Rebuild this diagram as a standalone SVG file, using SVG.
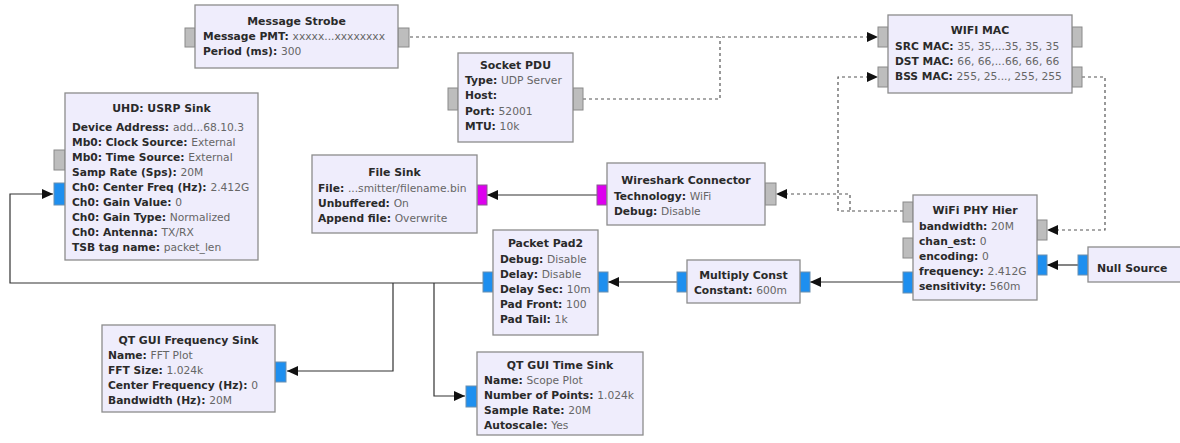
<svg xmlns="http://www.w3.org/2000/svg" width="1180" height="443" viewBox="0 0 1180 443">
<style>
.box{fill:#efedfc;stroke:#8c8c8c;stroke-width:1.3}
.pg{fill:#bdbdbd;stroke:#8a8a8a;stroke-width:1}
.pb{fill:#1e8fef;stroke:#6a8fb0;stroke-width:1}
.pm{fill:#dd00ee;stroke:#8a5a90;stroke-width:1}
text{font-family:"DejaVu Sans","Liberation Sans",sans-serif;font-size:10.7px;fill:#2a2a2a}
.t{font-weight:bold;font-size:10.9px;text-anchor:middle}
.k{font-weight:bold}
.v{font-weight:normal;fill:#666}
.s{fill:none;stroke:#333;stroke-width:1.2}
.d{fill:none;stroke:#555;stroke-width:1.2;stroke-dasharray:3 3}
</style>
<defs>
<marker id="ah" markerUnits="userSpaceOnUse" markerWidth="12" markerHeight="10" refX="11" refY="5" orient="auto">
<path d="M0,0 L11,5 L0,10 z" fill="#111"/>
</marker>
</defs>

<g id="connectors">
<path class="d" d="M410,37 H878" marker-end="url(#ah)"/>
<path class="d" d="M583,99 H720 V37"/>
<path class="d" d="M1082,77 H1105 V230 H1047" marker-end="url(#ah)"/>
<path class="d" d="M903,211 H850 V194 H776" marker-end="url(#ah)"/>
<path class="d" d="M850,211 H838 V77 H878" marker-end="url(#ah)"/>
<path class="s" d="M1078,265 H1047" marker-end="url(#ah)"/>
<path class="s" d="M903,282 H810" marker-end="url(#ah)"/>
<path class="s" d="M677,282 H608" marker-end="url(#ah)"/>
<path class="s" d="M483,283 H10 V194 H53" marker-end="url(#ah)"/>
<path class="s" d="M393,283 V371 H287" marker-end="url(#ah)"/>
<path class="s" d="M434,283 V396 H465" marker-end="url(#ah)"/>
<path class="s" d="M597,195 H487" marker-end="url(#ah)"/>
</g>

<g id="message_strobe">
<rect class="pg" x="185" y="28" width="10" height="19"/>
<rect class="pg" x="398" y="28" width="11" height="19"/>
<rect class="box" x="195" y="5" width="203" height="63"/>
<text class="t" x="296.5" y="25">Message Strobe</text>
<text x="203" y="40"><tspan class="k">Message PMT: </tspan><tspan class="v">xxxxx...xxxxxxxx</tspan></text>
<text x="203" y="55"><tspan class="k">Period (ms): </tspan><tspan class="v">300</tspan></text>
</g>

<g id="wifi_mac">
<rect class="pg" x="878" y="27" width="10" height="20"/>
<rect class="pg" x="878" y="67" width="10" height="20"/>
<rect class="pg" x="1072" y="27" width="10" height="20"/>
<rect class="pg" x="1072" y="67" width="10" height="20"/>
<rect class="box" x="888" y="15" width="184" height="78"/>
<text class="t" x="980" y="34">WIFI MAC</text>
<text x="895" y="50"><tspan class="k">SRC MAC: </tspan><tspan class="v">35, 35,...35, 35, 35</tspan></text>
<text x="895" y="65"><tspan class="k">DST MAC: </tspan><tspan class="v">66, 66,...66, 66, 66</tspan></text>
<text x="895" y="80"><tspan class="k">BSS MAC: </tspan><tspan class="v">255, 25..., 255, 255</tspan></text>
</g>

<g id="socket_pdu">
<rect class="pg" x="448" y="88" width="10" height="22"/>
<rect class="pg" x="573" y="88" width="10" height="22"/>
<rect class="box" x="458" y="53" width="115" height="89"/>
<text class="t" x="515.5" y="69">Socket PDU</text>
<text x="465" y="84"><tspan class="k">Type: </tspan><tspan class="v">UDP Server</tspan></text>
<text x="465" y="99"><tspan class="k">Host:</tspan></text>
<text x="465" y="115"><tspan class="k">Port: </tspan><tspan class="v">52001</tspan></text>
<text x="465" y="130"><tspan class="k">MTU: </tspan><tspan class="v">10k</tspan></text>
</g>

<g id="usrp_sink">
<rect class="pg" x="54" y="150" width="11" height="20"/>
<rect class="pb" x="54" y="183" width="11" height="22"/>
<rect class="box" x="65" y="93" width="193" height="167"/>
<text class="t" x="161.5" y="112">UHD: USRP Sink</text>
<text x="72" y="131"><tspan class="k">Device Address: </tspan><tspan class="v">add...68.10.3</tspan></text>
<text x="72" y="146"><tspan class="k">Mb0: Clock Source: </tspan><tspan class="v">External</tspan></text>
<text x="72" y="161"><tspan class="k">Mb0: Time Source: </tspan><tspan class="v">External</tspan></text>
<text x="72" y="176"><tspan class="k">Samp Rate (Sps): </tspan><tspan class="v">20M</tspan></text>
<text x="72" y="191"><tspan class="k">Ch0: Center Freq (Hz): </tspan><tspan class="v">2.412G</tspan></text>
<text x="72" y="206"><tspan class="k">Ch0: Gain Value: </tspan><tspan class="v">0</tspan></text>
<text x="72" y="221"><tspan class="k">Ch0: Gain Type: </tspan><tspan class="v">Normalized</tspan></text>
<text x="72" y="236"><tspan class="k">Ch0: Antenna: </tspan><tspan class="v">TX/RX</tspan></text>
<text x="72" y="251"><tspan class="k">TSB tag name: </tspan><tspan class="v">packet_len</tspan></text>
</g>

<g id="file_sink">
<rect class="pm" x="477" y="185" width="10" height="20"/>
<rect class="box" x="312" y="155" width="165" height="78"/>
<text class="t" x="394.5" y="176">File Sink</text>
<text x="318" y="192"><tspan class="k">File: </tspan><tspan class="v">...smitter/filename.bin</tspan></text>
<text x="318" y="207"><tspan class="k">Unbuffered: </tspan><tspan class="v">On</tspan></text>
<text x="318" y="222"><tspan class="k">Append file: </tspan><tspan class="v">Overwrite</tspan></text>
</g>

<g id="wireshark_connector">
<rect class="pm" x="597" y="185" width="10" height="20"/>
<rect class="pg" x="765" y="183" width="11" height="22"/>
<rect class="box" x="607" y="163" width="158" height="62"/>
<text class="t" x="686" y="184">Wireshark Connector</text>
<text x="614" y="200"><tspan class="k">Technology: </tspan><tspan class="v">WiFi</tspan></text>
<text x="614" y="215"><tspan class="k">Debug: </tspan><tspan class="v">Disable</tspan></text>
</g>

<g id="wifi_phy_hier">
<rect class="pg" x="903" y="202" width="10" height="20"/>
<rect class="pg" x="903" y="238" width="10" height="20"/>
<rect class="pb" x="903" y="272" width="10" height="21"/>
<rect class="pg" x="1037" y="220" width="10" height="20"/>
<rect class="pb" x="1037" y="255" width="10" height="20"/>
<rect class="box" x="913" y="195" width="124" height="105"/>
<text class="t" x="975" y="214">WiFi PHY Hier</text>
<text x="919" y="230"><tspan class="k">bandwidth: </tspan><tspan class="v">20M</tspan></text>
<text x="919" y="245"><tspan class="k">chan_est: </tspan><tspan class="v">0</tspan></text>
<text x="919" y="260"><tspan class="k">encoding: </tspan><tspan class="v">0</tspan></text>
<text x="919" y="275"><tspan class="k">frequency: </tspan><tspan class="v">2.412G</tspan></text>
<text x="919" y="290"><tspan class="k">sensitivity: </tspan><tspan class="v">560m</tspan></text>
</g>

<g id="null_source">
<rect class="pb" x="1078" y="255" width="10" height="20"/>
<rect class="box" x="1088" y="247" width="100" height="35"/>
<text x="1097" y="272" class="k" style="font-size:10.9px">Null Source</text>
</g>

<g id="packet_pad2">
<rect class="pb" x="483" y="272" width="10" height="20"/>
<rect class="pb" x="598" y="272" width="10" height="20"/>
<rect class="box" x="493" y="230" width="105" height="105"/>
<text class="t" x="545.5" y="247">Packet Pad2</text>
<text x="500" y="263"><tspan class="k">Debug: </tspan><tspan class="v">Disable</tspan></text>
<text x="500" y="278"><tspan class="k">Delay: </tspan><tspan class="v">Disable</tspan></text>
<text x="500" y="293"><tspan class="k">Delay Sec: </tspan><tspan class="v">10m</tspan></text>
<text x="500" y="308"><tspan class="k">Pad Front: </tspan><tspan class="v">100</tspan></text>
<text x="500" y="323"><tspan class="k">Pad Tail: </tspan><tspan class="v">1k</tspan></text>
</g>

<g id="multiply_const">
<rect class="pb" x="677" y="272" width="10" height="20"/>
<rect class="pb" x="800" y="272" width="10" height="20"/>
<rect class="box" x="687" y="260" width="113" height="43"/>
<text class="t" x="743.5" y="279">Multiply Const</text>
<text x="694" y="294"><tspan class="k">Constant: </tspan><tspan class="v">600m</tspan></text>
</g>

<g id="qt_freq_sink">
<rect class="pb" x="275" y="362" width="11" height="20"/>
<rect class="box" x="102" y="325" width="173" height="87"/>
<text class="t" x="188.5" y="344">QT GUI Frequency Sink</text>
<text x="108" y="359"><tspan class="k">Name: </tspan><tspan class="v">FFT Plot</tspan></text>
<text x="108" y="374"><tspan class="k">FFT Size: </tspan><tspan class="v">1.024k</tspan></text>
<text x="108" y="389"><tspan class="k">Center Frequency (Hz): </tspan><tspan class="v">0</tspan></text>
<text x="108" y="404"><tspan class="k">Bandwidth (Hz): </tspan><tspan class="v">20M</tspan></text>
</g>

<g id="qt_time_sink">
<rect class="pb" x="466" y="386" width="11" height="21"/>
<rect class="box" x="477" y="352" width="166" height="83"/>
<text class="t" x="560" y="369">QT GUI Time Sink</text>
<text x="484" y="384"><tspan class="k">Name: </tspan><tspan class="v">Scope Plot</tspan></text>
<text x="484" y="399"><tspan class="k">Number of Points: </tspan><tspan class="v">1.024k</tspan></text>
<text x="484" y="414"><tspan class="k">Sample Rate: </tspan><tspan class="v">20M</tspan></text>
<text x="484" y="429"><tspan class="k">Autoscale: </tspan><tspan class="v">Yes</tspan></text>
</g>
</svg>
